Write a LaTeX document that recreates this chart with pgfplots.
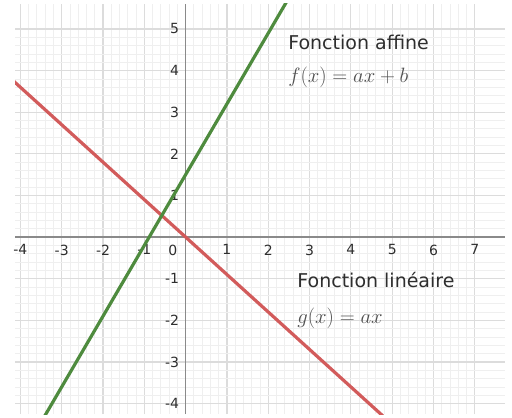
\documentclass[border=0pt]{standalone}
\usepackage{pgfplots}
\pgfplotsset{compat=1.18}
\usepackage{fontspec}
\setmainfont{DejaVu Sans}

\definecolor{gridmajor}{HTML}{DCDCDC}
\definecolor{gridminor}{HTML}{EFEFEF}
\definecolor{axisgray}{HTML}{8A8A8A}
\definecolor{affgreen}{HTML}{4E8B3E}
\definecolor{linred}{HTML}{D25B5B}
\definecolor{labelgray}{HTML}{2E2E2E}
\definecolor{mathgray}{HTML}{505050}

\begin{document}
\begin{tikzpicture}
\begin{axis}[
  scale only axis,
  width=490pt, height=410pt,
  xmin=-4.13, xmax=7.73,
  ymin=-4.25, ymax=5.6,
  axis lines*=middle,
  axis line style={draw=axisgray, line width=1.2pt},
  xtick={-4,...,7}, ytick={-4,...,5},
  xticklabels={-4,-3,-2,-1,{},1,2,3,4,5,6,7},
  yticklabels={-4,-3,-2,-1,{},1,2,3,4,5},
  minor tick num=4,
  major tick length=0pt, minor tick length=0pt,
  grid=both,
  major grid style={draw=gridmajor, line width=1.1pt},
  minor grid style={draw=gridminor, line width=0.8pt},
  tick label style={font=\fontsize{14}{14}\selectfont, text=labelgray},
  xticklabel style={anchor=north, yshift=-4pt},
  yticklabel style={anchor=east, xshift=-3pt},
]
  % g(x) = ax, linear function through the origin
  \addplot[linred, line width=3.2pt] coordinates {(-4.5,4.05) (8,-7.2)};
  % f(x) = ax + b, affine function
  \addplot[affgreen, line width=3.2pt] coordinates {(-4,-5.3) (3,6.6)};

  \node[text=labelgray] at (axis cs:-0.31,-0.33) {\fontsize{14}{14}\selectfont 0};

  \node[anchor=west, inner sep=0pt, text=labelgray] at (axis cs:2.48,4.67)
    {\fontsize{19}{19}\selectfont Fonction affine};
  \node[anchor=west, inner sep=0pt, text=mathgray] at (axis cs:2.48,3.83)
    {\fontsize{22}{22}\selectfont $f(x)=ax+b$};
  \node[anchor=west, inner sep=0pt, text=labelgray] at (axis cs:2.7,-1.04)
    {\fontsize{19}{19}\selectfont Fonction linéaire};
  \node[anchor=west, inner sep=0pt, text=mathgray] at (axis cs:2.7,-1.95)
    {\fontsize{22}{22}\selectfont $g(x)=ax$};
\end{axis}
% white margin around the plotting area
\path ([xshift=-15pt,yshift=-3pt]current axis.south west)
  rectangle ([xshift=7pt,yshift=4pt]current axis.north east);
\end{tikzpicture}
\end{document}
